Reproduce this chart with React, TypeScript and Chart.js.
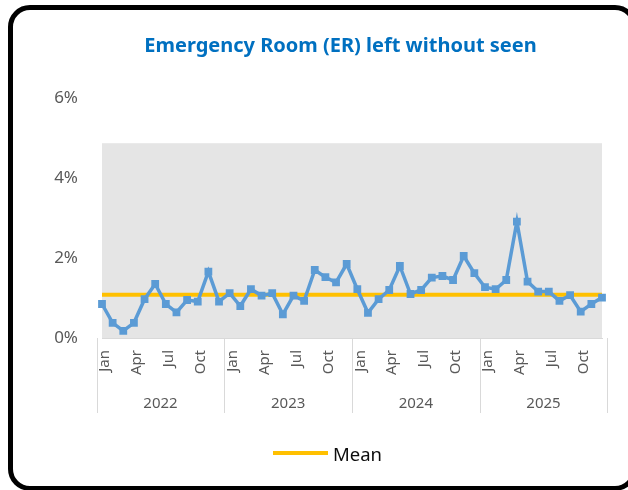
import React, { useEffect, useRef } from "react";
import { Chart, registerables } from "chart.js";

Chart.register(...registerables);

const TITLE = "Emergency Room (ER) left without seen";
const YEARS = ["2022", "2023", "2024", "2025"];
const MONTHS = ["Jan", "Feb", "Mar", "Apr", "May", "Jun", "Jul", "Aug", "Sep", "Oct", "Nov", "Dec"];
const SHOWN_MONTHS = ["Jan", "Apr", "Jul", "Oct"];

// Monthly rate (%) of patients leaving ER without being seen
const RATE_2022 = [0.85, 0.38, 0.18, 0.38, 0.97, 1.35, 0.85, 0.64, 0.95, 0.91, 1.66, 0.91];
const RATE_2023 = [1.12, 0.8, 1.22, 1.06, 1.12, 0.59, 1.06, 0.93, 1.7, 1.52, 1.39, 1.85];
const RATE_2024 = [1.22, 0.63, 0.97, 1.2, 1.8, 1.1, 1.2, 1.51, 1.55, 1.45, 2.05, 1.62];
const RATE_2025 = [1.27, 1.22, 1.45, 2.91, 1.41, 1.16, 1.16, 0.93, 1.07, 0.66, 0.85, 1.01];

const MEAN_VALUE = 1.08;
const Y_MIN = 0;
const Y_MAX = 6;
const Y_STEP = 2;
const PLOT_BG_TOP = 4.87;

const RATES = [...RATE_2022, ...RATE_2023, ...RATE_2024, ...RATE_2025];
const LABELS = YEARS.flatMap((y) => MONTHS.map((m) => `${m} ${y}`));
const MEAN_SERIES = RATES.map(() => MEAN_VALUE);

const FONT = "'Noto Sans', 'Open Sans', sans-serif";
const AXIS_GRAY = "#595959";

const decorPlugin = {
  id: "decor",
  beforeDatasetsDraw(chart: any) {
    const { ctx, chartArea } = chart;
    const y = chart.scales.y;
    const top = y.getPixelForValue(PLOT_BG_TOP);
    ctx.save();
    ctx.fillStyle = "#E5E5E5";
    ctx.fillRect(chartArea.left, top, chartArea.right - chartArea.left, chartArea.bottom - top);
    ctx.restore();
  },
  afterDraw(chart: any) {
    const { ctx, chartArea } = chart;
    const x = chart.scales.x;
    const step = x.getPixelForValue(1) - x.getPixelForValue(0);
    const yTop = chartArea.bottom;
    const yBot = chartArea.bottom + 75;
    ctx.save();
    ctx.strokeStyle = "#D9D9D9";
    ctx.lineWidth = 1;
    const bounds: number[] = [];
    for (let i = 0; i <= YEARS.length; i++) {
      const idx = i * 12;
      const px = i < YEARS.length ? x.getPixelForValue(idx) - step / 2 : x.getPixelForValue(idx - 1) + step / 2;
      bounds.push(px);
      ctx.beginPath();
      ctx.moveTo(Math.round(px) + 0.5, yTop);
      ctx.lineTo(Math.round(px) + 0.5, yBot);
      ctx.stroke();
    }
    ctx.fillStyle = AXIS_GRAY;
    ctx.font = `15px ${FONT}`;
    ctx.textAlign = "center";
    ctx.textBaseline = "middle";
    YEARS.forEach((yr, i) => {
      ctx.fillText(yr, (bounds[i] + bounds[i + 1]) / 2, chartArea.bottom + 66);
    });
    ctx.restore();
  },
};

export default function App() {
  const ref = useRef<HTMLCanvasElement | null>(null);

  useEffect(() => {
    if (!ref.current) return;
    const chart = new Chart(ref.current, {
      type: "line",
      data: {
        labels: LABELS,
        datasets: [
          {
            label: "ER left without seen",
            data: RATES,
            borderColor: "#5B9BD5",
            backgroundColor: "#5B9BD5",
            borderWidth: 3.5,
            pointStyle: "rect",
            pointRadius: 5.5,
            pointBorderWidth: 0,
            pointBackgroundColor: "#5B9BD5",
            tension: 0,
          },
          {
            label: "Mean",
            data: MEAN_SERIES,
            borderColor: "#FFC000",
            backgroundColor: "#FFC000",
            borderWidth: 4,
            pointRadius: 0,
            tension: 0,
          },
        ],
      },
      options: {
        responsive: false,
        animation: false,
        layout: { padding: { top: 98, left: 8, right: 26, bottom: 72 } },
        plugins: {
          legend: { display: false },
          title: { display: false },
          tooltip: { enabled: false },
        },
        scales: {
          x: {
            offset: false,
            grid: { display: false, drawTicks: false },
            border: { display: true, color: "#D9D9D9", width: 1 },
            afterFit: (s: any) => {
              s.height = 80;
            },
            ticks: {
              autoSkip: false,
              minRotation: 90,
              maxRotation: 90,
              padding: 12,
              labelOffset: 3,
              color: AXIS_GRAY,
              font: { family: FONT, size: 15 },
              callback: (_v: any, i: number) => {
                const m = MONTHS[i % 12];
                return SHOWN_MONTHS.includes(m) ? m : null;
              },
            },
          },
          y: {
            min: Y_MIN,
            max: Y_MAX,
            grid: { display: false, drawTicks: false },
            border: { display: false },
            afterFit: (s: any) => {
              s.width = 94;
            },
            ticks: {
              stepSize: Y_STEP,
              padding: 24,
              color: AXIS_GRAY,
              font: { family: FONT, size: 17 },
              callback: (v: any) => `${v}%`,
            },
          },
        },
      },
      plugins: [decorPlugin],
    });
    return () => chart.destroy();
  }, []);

  return (
    <div
      style={{
        position: "fixed",
        left: 0,
        top: 0,
        width: 628,
        height: 490,
        overflow: "hidden",
        background: "#fff",
      }}
    >
      <canvas ref={ref} width={628} height={490} style={{ position: "absolute", left: 0, top: 0, width: 628, height: 490 }} />
      <div
        style={{
          position: "absolute",
          left: 8,
          top: 5,
          width: 629,
          height: 486,
          border: "5px solid #000",
          borderRadius: 22,
          boxSizing: "border-box",
          pointerEvents: "none",
        }}
      />
      <div
        style={{
          position: "absolute",
          left: 0,
          top: 32,
          width: 681,
          textAlign: "center",
          fontFamily: FONT,
          fontWeight: 700,
          fontSize: 20,
          lineHeight: "26px",
          color: "#0070C0",
          whiteSpace: "nowrap",
        }}
      >
        {TITLE}
      </div>
      <div
        style={{
          position: "absolute",
          left: 273,
          top: 441,
          height: 24,
          display: "flex",
          alignItems: "center",
          fontFamily: FONT,
          fontSize: 18.5,
          color: "#0d0d0d",
        }}
      >
        <span style={{ display: "inline-block", width: 55, height: 4, background: "#FFC000", marginRight: 5 }} />
        <span>Mean</span>
      </div>
    </div>
  );
}
